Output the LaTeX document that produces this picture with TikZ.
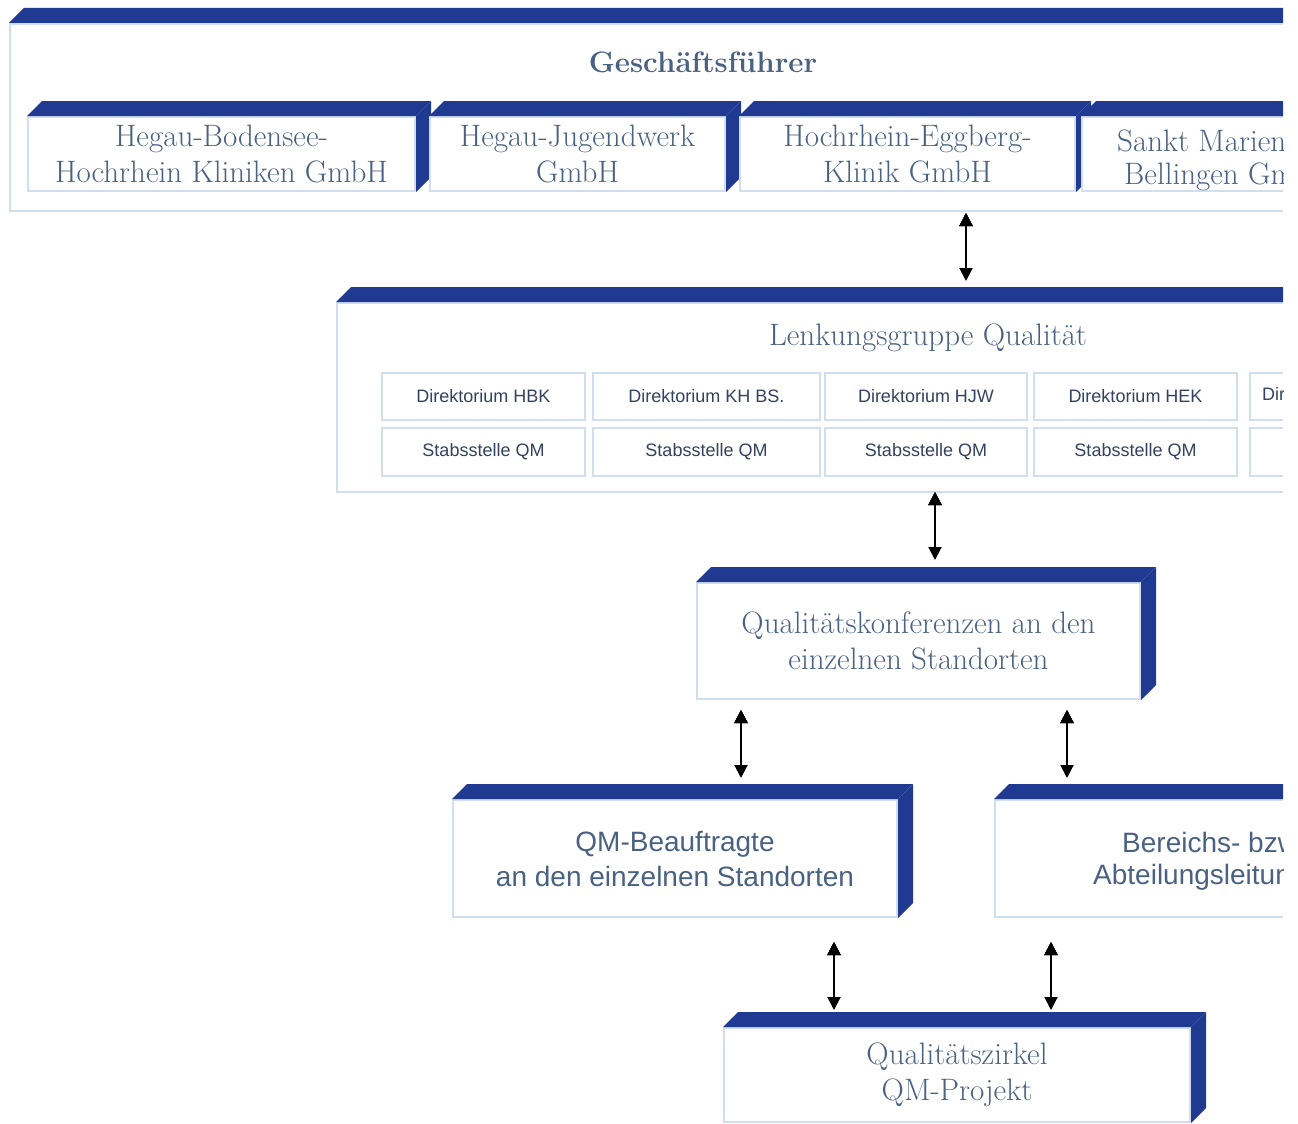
\documentclass[tikz,border=0pt]{standalone}
\usepackage{fontspec}
\newfontfamily\sansfont{Liberation Sans}
\usepackage{tikz}
\usetikzlibrary{arrows.meta}
\definecolor{bandblue}{RGB}{32,58,145}
\definecolor{edgeblue}{RGB}{208,222,240}
\definecolor{textblue}{RGB}{74,98,130}
\definecolor{celltext}{RGB}{50,66,96}
\tikzstyle{box}=[draw=edgeblue, line width=2pt, fill=white, inner sep=0pt, text=textblue, align=center, font=\fontsize{31}{36}\selectfont]
\tikzstyle{sansbox}=[box, font=\sansfont\fontsize{28}{35}\selectfont]
\tikzstyle{cell}=[draw=edgeblue, line width=2pt, fill=white, inner sep=0pt, text=celltext, font=\sansfont\fontsize{18}{20}\selectfont]
\tikzstyle{arrow}=[draw=black, line width=2pt, {Triangle[length=13pt,width=13pt]}-{Triangle[length=13pt,width=13pt]}]
\newcommand{\topband}[1]{\fill[bandblue] (#1.north west) -- ++(15,-15) -- ([shift={(15,-15)}]#1.north east) -- (#1.north east) -- cycle;}
\newcommand{\sideband}[1]{\fill[bandblue] (#1.north east) -- ++(15,-15) -- ([shift={(15,-15)}]#1.south east) -- (#1.south east) -- cycle;}

\begin{document}
\begin{tikzpicture}[x=1pt, y=-1pt]
  \useasboundingbox (0,0) rectangle (1298,1124);
  \clip (0,0) rectangle (1283,1124);
  % management
  \begin{scope}
    \node (gf) at (650,117.5)[box, minimum width=1280pt, minimum height=187pt] {};
    \topband{gf}
    \node (gft) at (703,62)[text=textblue, font=\bfseries\fontsize{29.5}{36}\selectfont] {Geschäftsführer};
    \node (c1) at (221.5,154)[box, minimum width=387pt, minimum height=74pt] {Hegau-Bodensee-\\Hochrhein Kliniken GmbH};
    \topband{c1} \sideband{c1}
    \node (c2) at (577.5,154)[box, minimum width=295pt, minimum height=74pt] {Hegau-Jugendwerk\\GmbH};
    \topband{c2} \sideband{c2}
    \node (c3) at (907.5,154)[box, minimum width=335pt, minimum height=74pt] {Hochrhein-Eggberg-\\Klinik GmbH};
    \topband{c3} \sideband{c3}
    \node (c4) at (1241,154)[box, minimum width=318pt, minimum height=74pt] {};
    \topband{c4}
    \node (c4a) at (1117,141)[anchor=west, text=textblue, font=\fontsize{31}{36}\selectfont, inner sep=0pt] {Sankt Marien};
    \node (c4b) at (1124,177)[anchor=west, text=textblue, font=\fontsize{31}{36}\selectfont, inner sep=0pt] {Bellingen GmbH};
  \end{scope}
  % steering group
  \begin{scope}
    \node (lg) at (868.5,397.5)[box, minimum width=1063pt, minimum height=189pt] {};
    \topband{lg}
    \node (lgt) at (928,338)[text=textblue, font=\fontsize{31}{36}\selectfont] {Lenkungsgruppe Qualität};
    \node (d1) at (483.5,396.5)[cell, minimum width=203pt, minimum height=47pt] {Direktorium HBK};
    \node (d2) at (706.5,396.5)[cell, minimum width=227pt, minimum height=47pt] {Direktorium KH BS.};
    \node (d3) at (926,396.5)[cell, minimum width=202pt, minimum height=47pt] {Direktorium HJW};
    \node (d4) at (1135.5,396.5)[cell, minimum width=203pt, minimum height=47pt] {Direktorium HEK};
    \node (d5) at (1351.5,396.5)[cell, minimum width=203pt, minimum height=47pt] {};
    \node (d5t) at (1262,394)[anchor=west, text=celltext, font=\sansfont\fontsize{18}{20}\selectfont, inner sep=0pt] {Direktorium};
    \node (s1) at (483.5,452)[cell, minimum width=203pt, minimum height=48pt] {Stabsstelle QM};
    \node (s2) at (706.5,452)[cell, minimum width=227pt, minimum height=48pt] {Stabsstelle QM};
    \node (s3) at (926,452)[cell, minimum width=202pt, minimum height=48pt] {Stabsstelle QM};
    \node (s4) at (1135.5,452)[cell, minimum width=203pt, minimum height=48pt] {Stabsstelle QM};
    \node (s5) at (1351.5,452)[cell, minimum width=203pt, minimum height=48pt] {};
  \end{scope}
  % sites
  \begin{scope}
    \node (kf) at (918.5,641)[box, minimum width=443pt, minimum height=116pt] {Qualitätskonferenzen an den\\einzelnen Standorten};
    \topband{kf} \sideband{kf}
    \node (qb) at (675,858.5)[sansbox, minimum width=444pt, minimum height=117pt] {QM-Beauftragte\\an den einzelnen Standorten};
    \topband{qb} \sideband{qb}
    \node (bl) at (1217,858.5)[sansbox, minimum width=444pt, minimum height=117pt] {};
    \topband{bl}
    \node (bla) at (1122,842)[anchor=west, text=textblue, font=\sansfont\fontsize{28}{35}\selectfont, inner sep=0pt] {Bereichs- bzw.};
    \node (blb) at (1093,877)[anchor=west, text=textblue, font=\sansfont\fontsize{28}{35}\selectfont, inner sep=0pt] {Abteilungsleitung};
    \node (qz) at (957,1075)[box, minimum width=466pt, minimum height=94pt] {Qualitätszirkel\\QM-Projekt};
    \topband{qz} \sideband{qz}
  \end{scope}
  % arrows
  \begin{scope}
    \coordinate (a1t) at (966,213); \coordinate (a1b) at (966,281);
    \coordinate (a2t) at (935,492); \coordinate (a2b) at (935,560);
    \coordinate (a3t) at (741,710); \coordinate (a3b) at (741,778);
    \coordinate (a4t) at (1067,710); \coordinate (a4b) at (1067,778);
    \coordinate (a5t) at (834,942); \coordinate (a5b) at (834,1010);
    \coordinate (a6t) at (1051,942); \coordinate (a6b) at (1051,1010);
    \path [arrow] (a1t) edge (a1b);
    \path [arrow] (a2t) edge (a2b);
    \path [arrow] (a3t) edge (a3b);
    \path [arrow] (a4t) edge (a4b);
    \path [arrow] (a5t) edge (a5b);
    \path [arrow] (a6t) edge (a6b);
  \end{scope}
\end{tikzpicture}
\end{document}
